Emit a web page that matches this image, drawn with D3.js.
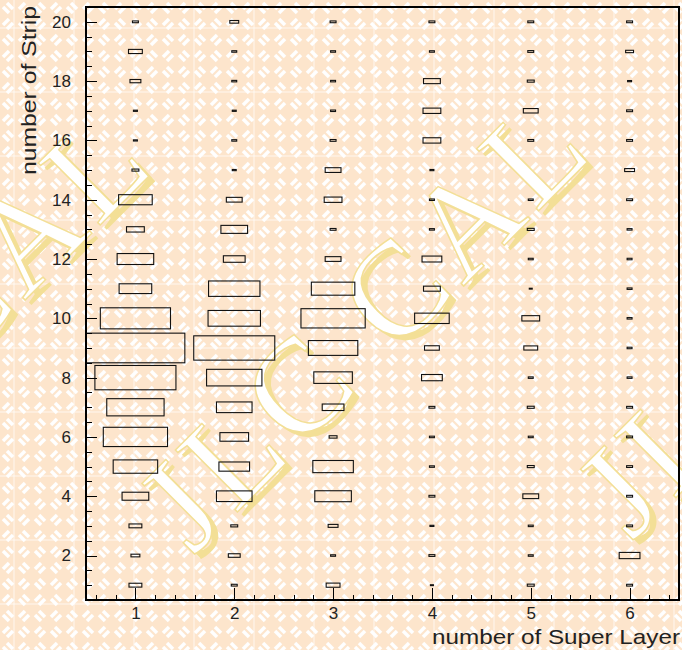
<!DOCTYPE html>
<html>
<head>
<meta charset="utf-8">
<script src="https://cdn.jsdelivr.net/npm/d3@7"></script>
<style>
  body { margin: 0; background: #fff; }
  svg { display: block; }
</style>
</head>
<body>
<svg width="682" height="650"></svg>
<script>
// bins
const layers = [1, 2, 3, 4, 5, 6];
const strips = d3.range(1, 21);

// box content per super layer, strip 1 -> 20 (relative, max = 100)
const sl1 = [13, 9, 13, 27, 45, 65, 58, 82, 100, 71, 33, 37, 18, 34, 7, 4, 4, 11, 14, 6];
const sl2 = [6, 12, 7, 36, 31, 29, 36, 56, 82, 53, 52, 22, 27, 16, 4, 5, 4, 5, 5, 9];
const sl3 = [14, 5, 10, 37, 41, 8, 22, 39, 50, 65, 44, 16, 6, 18, 16, 6, 5, 5, 5, 6];
const sl4 = [3, 6, 4, 6, 5, 5, 6, 21, 15, 35, 17, 20, 5, 5, 4, 18, 18, 17, 5, 6];
const sl5 = [7, 5, 5, 16, 7, 5, 7, 5, 14, 18, 3, 5, 7, 5, 0, 6, 15, 7, 6, 6];
const sl6 = [6, 21, 6, 6, 6, 6, 6, 5, 5, 5, 5, 5, 5, 6, 10, 6, 6, 4, 8, 6];
const counts = [sl1, sl2, sl3, sl4, sl5, sl6];

const xTicks = [1, 2, 3, 4, 5, 6];
const yTicks = [2, 4, 6, 8, 10, 12, 14, 16, 18, 20];

const svg = d3.select("svg");
const W = 682, H = 650;
const frame = { left: 86, right: 679, top: 7, bottom: 600 };

const x = d3.scaleLinear().domain([0.5, 6.5]).range([frame.left, frame.right]);
const y = d3.scaleLinear().domain([0.5, 20.5]).range([frame.bottom, frame.top]);
const maxVal = d3.max(counts, (c) => d3.max(c));

// 배경 텍스처 (basket weave)
const defs = svg.append("defs");
const cs = 16;
const pat = defs
  .append("pattern")
  .attr("id", "weave")
  .attr("patternUnits", "userSpaceOnUse")
  .attr("width", cs * 2)
  .attr("height", cs * 2);
pat.append("rect").attr("width", cs * 2).attr("height", cs * 2).attr("fill", "#fde5cc");
const cellA = [[3, 7, 9, 13], [7, 3, 13, 9]];
const cellB = [[3, 9, 9, 3], [7, 13, 13, 7]];
[[0, 0, cellA], [cs, 0, cellB], [0, cs, cellB], [cs, cs, cellA]].forEach(([ox, oy, segs]) => {
  segs.forEach(([x1, y1, x2, y2]) => {
    pat
      .append("line")
      .attr("x1", ox + x1).attr("y1", oy + y1)
      .attr("x2", ox + x2).attr("y2", oy + y2)
      .attr("stroke", "#fff")
      .attr("stroke-width", 3.6);
  });
});

const grid = defs
  .append("pattern")
  .attr("id", "tiles")
  .attr("patternUnits", "userSpaceOnUse")
  .attr("width", 60)
  .attr("height", 64)
  .attr("patternTransform", "translate(13,27)");
grid.append("rect").attr("width", 2).attr("height", 64).attr("fill", "#fff").attr("opacity", 0.35);
grid.append("rect").attr("width", 60).attr("height", 2).attr("fill", "#fff").attr("opacity", 0.35);

svg.append("rect").attr("width", W).attr("height", H).attr("fill", "url(#weave)");
svg.append("rect").attr("width", W).attr("height", H).attr("fill", "url(#tiles)");

// watermark
const wm = svg.append("g").attr("transform", "rotate(-45)");
[-1, 0, 1].forEach((k) => {
  const s = -257 + 320 * k;
  const n = 530 + 300 * k;
  wm.append("text")
    .attr("x", s + 1).attr("y", n + 8)
    .attr("font-family", "Liberation Serif, DejaVu Serif, serif")
    .attr("font-size", 134)
    .attr("letter-spacing", 7)
    .attr("fill", "#f3df96")
    .text("JLC CAL");
  wm.append("text")
    .attr("x", s).attr("y", n)
    .attr("font-family", "Liberation Serif, DejaVu Serif, serif")
    .attr("font-size", 134)
    .attr("letter-spacing", 7)
    .attr("fill", "#fff")
    .attr("stroke", "#f3df96")
    .attr("stroke-width", 1.5)
    .text("JLC CAL");
});

// boxes
const binW = x(1.5) - x(0.5);
const binH = y(0.5) - y(1.5);
const cells = [];
layers.forEach((l, i) => {
  strips.forEach((s, j) => {
    const v = counts[i][j];
    if (v > 0) cells.push({ l, s, v });
  });
});

svg
  .append("g")
  .selectAll("rect")
  .data(cells)
  .enter()
  .append("rect")
  .attr("x", (d) => x(d.l) - (binW * d.v) / maxVal / 2)
  .attr("y", (d) => y(d.s) - (binH * d.v) / maxVal / 2)
  .attr("width", (d) => (binW * d.v) / maxVal)
  .attr("height", (d) => (binH * d.v) / maxVal)
  .attr("fill", "none")
  .attr("stroke", "#111")
  .attr("stroke-width", 1.1);

// axes
const font = "Liberation Sans, Arial, sans-serif";

const xMinor = d3.range(0.6, 6.5, 0.2).filter((v) => Math.abs(v - Math.round(v)) > 0.05);
const yMinor = d3.range(1, 20.6, 0.5).filter((v) => !yTicks.includes(v));

const gx = svg.append("g").attr("transform", `translate(0,${frame.bottom})`);
gx.call(d3.axisBottom(x).tickValues(xMinor).tickFormat("").tickSizeInner(-5).tickSizeOuter(0));
gx.call((g) => g.select(".domain").remove());
const gx2 = svg.append("g").attr("transform", `translate(0,${frame.bottom})`);
gx2.call(d3.axisBottom(x).tickValues(xTicks).tickFormat(d3.format("d")).tickSizeInner(-12).tickSizeOuter(0).tickPadding(7));
gx2.call((g) => g.select(".domain").remove());

const gy = svg.append("g").attr("transform", `translate(${frame.left},0)`);
gy.call(d3.axisLeft(y).tickValues(yMinor).tickFormat("").tickSizeInner(-5.5).tickSizeOuter(0));
gy.call((g) => g.select(".domain").remove());
const gy2 = svg.append("g").attr("transform", `translate(${frame.left},0)`);
gy2.call(d3.axisLeft(y).tickValues(yTicks).tickFormat(d3.format("d")).tickSizeInner(-11).tickSizeOuter(0).tickPadding(15));
gy2.call((g) => g.select(".domain").remove());

svg.selectAll(".tick line").attr("stroke", "#000").attr("shape-rendering", "crispEdges");
svg.selectAll(".tick text").attr("font-family", font).attr("font-size", 17).attr("fill", "#222");

// frame
svg
  .append("rect")
  .attr("x", frame.left)
  .attr("y", frame.top)
  .attr("width", frame.right - frame.left)
  .attr("height", frame.bottom - frame.top)
  .attr("fill", "none")
  .attr("stroke", "#000")
  .attr("stroke-width", 1.2)
  .attr("shape-rendering", "crispEdges");

// axis titles
svg
  .append("text")
  .attr("x", 680)
  .attr("y", 644)
  .attr("text-anchor", "end")
  .attr("font-family", font)
  .attr("font-size", 21)
  .attr("fill", "#222")
  .attr("textLength", 248)
  .attr("lengthAdjust", "spacingAndGlyphs")
  .text("number of Super Layer");

svg
  .append("text")
  .attr("transform", "translate(36,6) rotate(-90)")
  .attr("text-anchor", "end")
  .attr("font-family", font)
  .attr("font-size", 21)
  .attr("fill", "#222")
  .attr("textLength", 169)
  .attr("lengthAdjust", "spacingAndGlyphs")
  .text("number of Strip");
</script>
</body>
</html>
